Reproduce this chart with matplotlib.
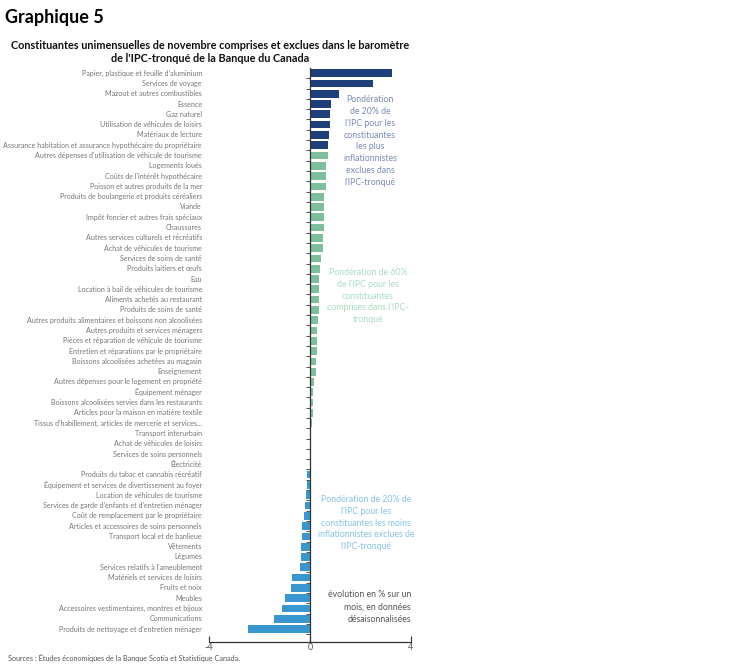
import matplotlib
matplotlib.use("Agg")
import matplotlib.pyplot as plt
import numpy as np
from matplotlib.transforms import blended_transform_factory

plt.rcParams['font.family'] = ['Lato', 'DejaVu Sans']

categories = [
    "Papier, plastique et feuille d'aluminium",
    "Services de voyage",
    "Mazout et autres combustibles",
    "Essence",
    "Gaz naturel",
    "Utilisation de véhicules de loisirs",
    "Matériaux de lecture",
    "Assurance habitation et assurance hypothécaire du propriétaire",
    "Autres dépenses d'utilisation de véhicule de tourisme",
    "Logements loués",
    "Coûts de l'intérêt hypothécaire",
    "Poisson et autres produits de la mer",
    "Produits de boulangerie et produits céréaliers",
    "Viande",
    "Impôt foncier et autres frais spéciaux",
    "Chaussures",
    "Autres services culturels et récréatifs",
    "Achat de véhicules de tourisme",
    "Services de soins de santé",
    "Produits laitiers et œufs",
    "Eau",
    "Location à bail de véhicules de tourisme",
    "Aliments achetés au restaurant",
    "Produits de soins de santé",
    "Autres produits alimentaires et boissons non alcoolisées",
    "Autres produits et services ménagers",
    "Pièces et réparation de véhicule de tourisme",
    "Entretien et réparations par le propriétaire",
    "Boissons alcoolisées achetées au magasin",
    "Enseignement",
    "Autres dépenses pour le logement en propriété",
    "Équipement ménager",
    "Boissons alcoolisées servies dans les restaurants",
    "Articles pour la maison en matière textile",
    "Tissus d'habillement, articles de mercerie et services...",
    "Transport interurbain",
    "Achat de véhicules de loisirs",
    "Services de soins personnels",
    "Électricité",
    "Produits du tabac et cannabis récréatif",
    "Équipement et services de divertissement au foyer",
    "Location de véhicules de tourisme",
    "Services de garde d'enfants et d'entretien ménager",
    "Coût de remplacement par le propriétaire",
    "Articles et accessoires de soins personnels",
    "Transport local et de banlieue",
    "Vêtements",
    "Légumes",
    "Services relatifs à l'ameublement",
    "Matériels et services de loisirs",
    "Fruits et noix",
    "Meubles",
    "Accessoires vestimentaires, montres et bijoux",
    "Communications",
    "Produits de nettoyage et d'entretien ménager",
]

values = [
    3.25, 2.50, 1.15, 0.83, 0.80, 0.78, 0.77, 0.73,
    0.71, 0.63, 0.63, 0.62, 0.55, 0.54, 0.54, 0.54, 0.53, 0.50, 0.45,
    0.38, 0.36, 0.36, 0.35, 0.34, 0.30, 0.28, 0.27, 0.26, 0.25, 0.24,
    0.17, 0.13, 0.12, 0.11, 0.07, 0.05, 0.0, 0.0, 0.0,
    -0.12, -0.12, -0.15, -0.20, -0.22, -0.30, -0.33, -0.36, -0.37, -0.41,
    -0.71, -0.77, -1.00, -1.12, -1.43, -2.45,
]

groups = ["top"] * 8 + ["mid"] * 31 + ["low"] * 16

group_colors = {"top": "#1f3f7a", "mid": "#7dbf9a", "low": "#3a96cf"}

x_ticks = [-4, 0, 4]

W, H = 748, 667
fig = plt.figure(figsize=(W / 100, H / 100), dpi=100)
ax = fig.add_axes([209 / W, 1 - 642 / H, (411 - 209) / W, (642 - 68) / H])

n = len(categories)
ypos = np.arange(n)
colors = [group_colors[g] for g in groups]
ax.barh(ypos, values, height=0.75, color=colors, zorder=2)

ax.set_xlim(-4, 4)
ax.set_ylim(n - 1 + 1.26, -0.5)
ax.set_xticks(x_ticks)
ax.set_xticklabels([str(t) for t in x_ticks], fontsize=6.5, color="#555555")
ax.tick_params(axis='x', direction='in', length=4, width=0.8, color="#333333", pad=1)

for s in ['top', 'right']:
    ax.spines[s].set_visible(False)
ax.spines['bottom'].set_color("#333333")
ax.spines['bottom'].set_linewidth(0.9)
ax.spines['left'].set_position(('data', 0))
ax.spines['left'].set_color("#333333")
ax.spines['left'].set_linewidth(0.9)
ax.set_yticks(ypos + 0.5)
ax.set_yticklabels([])
ax.tick_params(axis='y', direction='out', length=3, width=0.6, color="#333333")

trans = blended_transform_factory(ax.transAxes, ax.transData)
for i, lab in enumerate(categories):
    ax.text(-7 / 202, i, lab, transform=trans, ha='right', va='center',
            fontsize=5.1, color="#777777")

fig.text(5 / W, 1 - 17 / H, "Graphique 5", fontsize=13, fontweight='bold',
         ha='left', va='center', color="#000000")
fig.text(210 / W, 1 - 52 / H,
         "Constituantes unimensuelles de novembre comprises et exclues dans le baromètre\nde l'IPC-tronqué de la Banque du Canada",
         fontsize=7.8, fontweight='bold', ha='center', va='center', color="#111111",
         linespacing=1.3)

fig.text(370 / W, 1 - 141 / H,
         "Pondération\nde 20% de\nl'IPC pour les\nconstituantes\nles plus\ninflationnistes\nexclues dans\nl'IPC-tronqué",
         fontsize=6.3, ha='center', va='center', color="#7d8bb5", linespacing=1.4)
fig.text(368 / W, 1 - 296 / H,
         "Pondération de 60%\nde l'IPC pour les\nconstituantes\ncomprises dans l'IPC-\ntronqué",
         fontsize=6.3, ha='center', va='center', color="#aadbc3", linespacing=1.4)
fig.text(366 / W, 1 - 523 / H,
         "Pondération de 20% de\nl'IPC pour les\nconstituantes les moins\ninflationnistes exclues de\nl'IPC-tronqué",
         fontsize=6.3, ha='center', va='center', color="#86c3e6", linespacing=1.4)
fig.text(411 / W, 1 - 607 / H,
         "évolution en % sur un\nmois, en données\ndésaisonnalisées",
         fontsize=6.3, ha='right', va='center', color="#555555", linespacing=1.5)

fig.text(8 / W, 1 - 658 / H,
         "Sources : Études économiques de la Banque Scotia et Statistique Canada.",
         fontsize=5.2, ha='left', va='center', color="#555555")

fig.savefig("out.png", dpi=100)
